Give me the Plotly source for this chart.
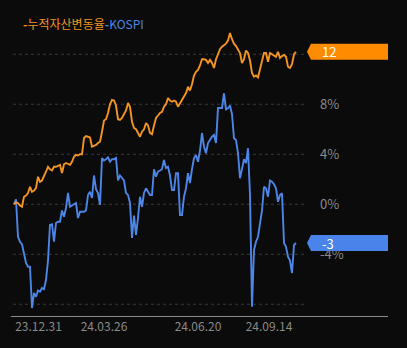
import plotly.graph_objects as go

# Cumulative return (%) of the asset vs. KOSPI, one value per trading day
asset_ret = [
    0.0, 0.15, 0.1, -0.1, -0.2, 0.6, 0.7, 0.9, 1.4, 1.0,
    1.1, 1.3, 2.2, 1.8, 1.9, 2.2, 2.6, 3.0, 2.8, 2.7,
    3.0, 3.0, 3.1, 3.15, 2.5, 3.2, 3.3, 3.2, 3.15, 3.4,
    3.8, 3.95, 3.9, 4.0, 4.0, 5.3, 5.45, 5.4, 5.35, 4.6,
    4.65, 4.75, 4.9, 5.0, 5.8, 6.7, 6.8, 7.3, 8.0, 8.35,
    8.3, 7.9, 6.8, 6.75, 6.9, 7.2, 7.5, 8.1, 7.8, 6.6,
    6.1, 6.0, 5.7, 5.4, 5.8, 6.0, 6.5, 6.3, 5.7, 5.6,
    6.3, 6.9, 7.1, 7.3, 7.4, 7.8, 8.0, 8.5, 8.3, 8.2,
    8.3, 8.2, 7.8, 8.1, 8.35, 8.6, 8.9, 9.4, 9.1, 9.6,
    10.3, 10.6, 10.75, 11.1, 11.6, 11.6, 11.55, 11.3, 11.55, 11.3,
    10.9, 11.6, 12.0, 12.4, 12.6, 12.7, 12.85, 13.1, 13.7, 13.2,
    12.85, 12.65, 12.4, 12.1, 11.3, 11.6, 12.3, 12.1, 11.5, 10.5,
    10.2, 10.3, 10.15, 10.75, 11.5, 12.1, 12.1, 11.4, 12.1, 12.0,
    11.85, 11.8, 12.2, 11.7, 11.85, 11.95, 11.8, 11.0, 10.9, 11.2,
    12.0, 12.2,
]
kospi_ret = [
    0.0, 0.4, -2.6, -3.0, -3.2, -3.9, -4.7, -5.0, -5.0, -8.3,
    -7.1, -7.4, -6.9, -7.0, -6.7, -6.8, -6.06, -4.5, -1.66, -1.6,
    -3.0, -1.5, -1.4, -1.4, -0.5, -1.0, -0.3, 0.9, -0.2, -0.1,
    0.0, 0.1, -1.1, -0.6, -0.6, -0.6, -0.5, 0.74, 1.0, 0.5,
    2.3, 1.2, 0.9, -0.05, 3.7, 3.5, 3.6, 3.75, 3.4, 3.6,
    3.6, 3.7, 1.9, 2.3, 2.1, 1.9, 0.9, 0.75, 0.1, -2.7,
    -0.9, -2.46, -1.1, 0.6, -0.2, 0.9, 1.28, 1.0, 0.74, 0.74,
    2.8, 2.2, 2.6, 2.7, 2.8, 3.54, 2.9, 3.0, 2.3, 1.14,
    1.14, 2.48, 2.48, -0.86, -0.86, 0.6, 1.28, 2.48, 1.7, 2.8,
    3.7, 3.94, 3.4, 4.3, 5.7, 4.6, 4.08, 4.9, 5.2, 5.4,
    5.54, 4.9, 7.7, 7.7, 7.7, 8.88, 7.6, 7.68, 7.9, 7.2,
    5.28, 5.14, 4.1, 2.08, 2.88, 3.6, 3.3, 4.48, 0.74, -8.2,
    -3.66, -3.0, -2.6, -1.52, -0.5, 1.4, 1.28, 0.6, 1.9, 1.8,
    1.6, 1.28, 0.2, 0.74, 0.88, -3.1, -3.4, -4.2, -4.5, -5.5,
    -3.26, -3.1,
]
day_idx = list(range(len(asset_ret)))

date_tick_idx = [12.25, 45, 92, 127.5]
date_tick_text = ["23.12.31", "24.03.26", "24.06.20", "24.09.14"]

grid_vals = [12, 8, 4, 0, -4, -8]
label_vals = [8, 4, 0, -4]

series_names = ["누적자산변동율", "KOSPI"]

ORANGE = "#f39423"
BLUE = "#4d86e6"
TAG_ORANGE = "#ff8c00"
TAG_BLUE = "#4a84ea"
BG = "#0b0b0b"
FONT = "Noto Sans CJK KR"

fig = go.Figure()

fig.add_trace(go.Scatter(
    x=day_idx, y=kospi_ret, mode="lines", name=series_names[1],
    line=dict(color=BLUE, width=1.9), hoverinfo="skip",
))
fig.add_trace(go.Scatter(
    x=day_idx, y=asset_ret, mode="lines", name=series_names[0],
    line=dict(color=ORANGE, width=1.9), hoverinfo="skip",
))

# right-hand percentage labels (drawn as a trace so the value tags sit on top)
fig.add_trace(go.Scatter(
    x=[153] * len(label_vals), y=[v - 0.12 for v in label_vals], mode="text",
    text=[f"{v}%" for v in label_vals], textposition="middle right",
    textfont=dict(color="#8a8a8a", size=13, family=FONT),
    cliponaxis=False, hoverinfo="skip",
))

shapes = []
for v in grid_vals:
    shapes.append(dict(
        type="line", xref="x", yref="y", x0=-0.5, x1=145.5, y0=v, y1=v,
        line=dict(color="#3a3a3a", width=1, dash="dot"), layer="below",
    ))

annotations = []
for series, col in ((asset_ret, TAG_ORANGE), (kospi_ret, TAG_BLUE)):
    last = series[-1]
    shapes.append(dict(
        type="path", xref="paper", yref="y",
        xsizemode="pixel", ysizemode="pixel", xanchor=1, yanchor=last,
        path="M -81 0 L -77 8 L 0 8 L 0 -8 L -77 -8 Z",
        fillcolor=col, line=dict(width=0), layer="above",
    ))
    annotations.append(dict(
        xref="paper", yref="y", x=(320 - 11) / 377, y=last,
        xanchor="left", yanchor="middle", showarrow=False,
        text=str(round(last)), font=dict(color="white", size=13, family=FONT),
    ))

annotations.append(dict(
    xref="paper", yref="paper", x=(21 - 11) / 377, y=(348 - 32 - 23) / 286,
    xanchor="left", yanchor="middle", showarrow=False,
    text=(f"<span style='color:{ORANGE}'><b>-</b>{series_names[0]}</span>"
          f"<span style='color:{BLUE}'><b>-</b>{series_names[1]}</span>"),
    font=dict(size=12, family=FONT),
))

fig.update_layout(
    width=407, height=348,
    margin=dict(l=11, r=19, t=30, b=32),
    paper_bgcolor=BG, plot_bgcolor=BG,
    showlegend=False,
    font=dict(family=FONT),
    xaxis=dict(
        range=[-1.5, 187], showgrid=False, zeroline=False,
        showline=True, linecolor="#8a8a8a", linewidth=1,
        tickmode="array", tickvals=date_tick_idx, ticktext=date_tick_text,
        tickfont=dict(color="#8a8a8a", size=12, family=FONT), ticks="",
    ),
    yaxis=dict(
        range=[-8.94, 13.94], showgrid=False, zeroline=False,
        showticklabels=False,
    ),
    shapes=shapes,
    annotations=annotations,
)

fig.write_html("out.html")
